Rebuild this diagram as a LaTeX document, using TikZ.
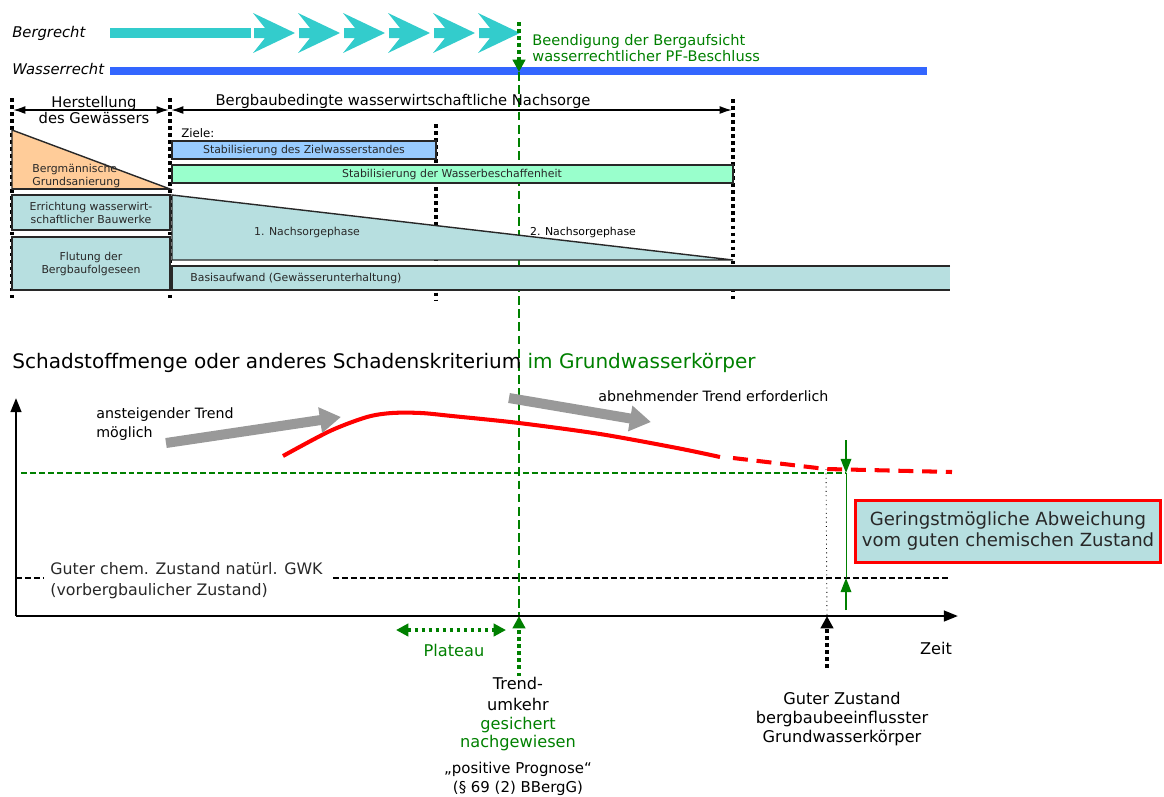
\documentclass[tikz,border=0pt]{standalone}
\usepackage{fontspec}
\setmainfont{DejaVu Sans}
\usepackage{tikz}
\usetikzlibrary{arrows.meta}
\definecolor{rechtcyan}{RGB}{51,204,204}
\definecolor{rechtblue}{RGB}{51,102,255}
\definecolor{pfgreen}{RGB}{0,128,0}
\definecolor{phaseteal}{RGB}{183,223,224}
\definecolor{sanorange}{RGB}{255,204,153}
\definecolor{zielblue}{RGB}{153,204,255}
\definecolor{zielmint}{RGB}{153,255,204}
\definecolor{trendgray}{RGB}{153,153,153}
\definecolor{edgegray}{RGB}{40,40,40}
\tikzstyle{bound_dotted} = [line width=2pt, dash pattern=on 2pt off 2pt]
\tikzstyle{phase_box} = [draw=edgegray, line width=0.8pt, fill=phaseteal]
\tikzstyle{span_arrow} = [line width=0.9pt, {Latex[length=7pt,width=4.5pt]}-{Latex[length=7pt,width=4.5pt]}]
\tikzstyle{txt_law} = [inner sep=0pt, anchor=west, font=\fontsize{8.4}{10}\selectfont\itshape]
\tikzstyle{txt_box} = [inner sep=0pt, align=center, text=edgegray, font=\fontsize{6.2}{7.2}\selectfont]
\tikzstyle{txt_head} = [inner sep=0pt, align=center, font=\fontsize{8.4}{9.6}\selectfont]
\tikzstyle{txt_trend} = [inner sep=0pt, anchor=west, align=left, font=\fontsize{8.1}{10.8}\selectfont]
\tikzstyle{txt_label} = [inner sep=0pt, align=center, font=\fontsize{9.2}{11}\selectfont]
\tikzstyle{trend_arrow} = [draw=trendgray, line width=5.7pt, -{Triangle[length=12pt,width=14pt]}]
\tikzstyle{green_dotted} = [draw=pfgreen, line width=2pt, dash pattern=on 2pt off 2pt]
\tikzstyle{green_tip} = [-{Triangle[length=7pt,width=7pt]}]
\tikzstyle{axis_arrow} = [line width=1.4pt, -{Triangle[length=8pt,width=6pt]}]
\tikzstyle{damage_curve} = [draw=red, line width=2.3pt]

\begin{document}
\begin{tikzpicture}[x=0.02cm, y=-0.02cm]
\useasboundingbox (0,0) rectangle (1164,796);

% Bergrecht / Wasserrecht
\node (lbl_berg) [txt_law] at (12,33) {Bergrecht};
\node (lbl_wasser) [txt_law] at (12,69) {Wasserrecht};
\coordinate (berg_start) at (110,33);
\coordinate (berg_end) at (251,33);
\draw[rechtcyan, line width=5.7pt] (berg_start) -- (berg_end);
\foreach \i in {0,...,5} {
  \pgfmathsetmacro\cx{253+45*\i}
  \fill[rechtcyan] (\cx,13) -- ++(42,20) -- ++(-42,20) -- ++(12,-15) -- ++(-11,0) -- ++(0,-10) -- ++(11,0) -- cycle;
}
\coordinate (wasser_start) at (110,71);
\coordinate (wasser_end) at (927,71);
\draw[rechtblue, line width=4pt] (wasser_start) -- (wasser_end);

\coordinate (pf_top) at (519,22);
\coordinate (pf_bar) at (519,72);
\coordinate (pf_axis) at (519,616);
\draw[green_dotted, green_tip] (pf_top) -- (pf_bar);
\draw[pfgreen, line width=0.75pt, dash pattern=on 5pt off 2.5pt] (pf_bar) -- (pf_axis);
\node (pf_txt) [inner sep=0pt, anchor=west, align=left, text=pfgreen, font=\fontsize{8.3}{9.6}\selectfont] at (532,48) {Beendigung der Bergaufsicht\\wasserrechtlicher PF-Beschluss};

% Phasen
\draw[bound_dotted] (12,98) -- (12,300);
\draw[bound_dotted] (170,98) -- (170,300);
\draw[bound_dotted] (436,124) -- (436,300);
\draw[bound_dotted] (733,99) -- (733,300);
\coordinate (hs_l) at (13,110);
\coordinate (hs_r) at (169,110);
\coordinate (ns_l) at (171,110);
\coordinate (ns_r) at (732,110);
\draw[span_arrow] (hs_l) -- (hs_r);
\draw[span_arrow] (ns_l) -- (ns_r);
\node (hs_txt) [txt_head] at (94,110) {Herstellung\\des Gewässers};
\node (ns_txt) [txt_head] at (403,101) {Bergbaubedingte wasserwirtschaftliche Nachsorge};

\node (ziele_txt) [inner sep=0pt, anchor=west, font=\fontsize{6.7}{8}\selectfont] at (181,133) {Ziele:};
\draw[draw=edgegray, line width=0.8pt, fill=zielblue] (172,141) rectangle (436,159);
\node (ziel_txt) [txt_box] at (304,150) {Stabilisierung des Zielwasserstandes};
\draw[draw=edgegray, line width=0.8pt, fill=zielmint] (172,165) rectangle (733,183);
\node (beschaff_txt) [txt_box] at (452,174) {Stabilisierung der Wasserbeschaffenheit};

\draw[draw=edgegray, line width=0.8pt, fill=sanorange] (12,130) -- (170,189) -- (12,189) -- cycle;
\draw[edgegray, line width=1.4pt] (12,189) -- (170,189);
\node (san_txt) [txt_box, anchor=west, align=left] at (32,176) {Bergmännische\\Grundsanierung};
\draw[phase_box] (12,195) rectangle (170,230);
\node (bau_txt) [txt_box] at (91,213) {Errichtung wasserwirt-\\schaftlicher Bauwerke};
\draw[phase_box] (12,237) rectangle (170,290);
\node (flut_txt) [txt_box, font=\fontsize{6.2}{7.6}\selectfont] at (91,264) {Flutung der\\Bergbaufolgeseen};

\draw[phase_box] (172,195) -- (733,260) -- (172,260) -- cycle;
\node (phase1_txt) [txt_box] at (307,232) {1. Nachsorgephase};
\node (phase2_txt) [txt_box, text=black] at (583,232) {2. Nachsorgephase};
\fill[phaseteal] (172,266) rectangle (950,290);
\draw[edgegray, line width=0.8pt] (950,266) -- (172,266) -- (172,290) -- (950,290);
\node (basis_txt) [txt_box, anchor=west] at (190,278) {Basisaufwand (Gewässerunterhaltung)};

% Schadstoffverlauf
\node (title_txt) [inner sep=0pt, anchor=west, font=\fontsize{11.4}{13}\selectfont] at (12,363) {Schadstoffmenge oder anderes Schadenskriterium \textcolor{pfgreen}{im Grundwasserkörper}};
\coordinate (origin) at (16,616);
\coordinate (y_top) at (16,398);
\coordinate (x_end) at (958,616);
\draw[axis_arrow] (origin) -- (y_top);
\draw[axis_arrow] (origin) -- (x_end);

\draw[pfgreen, line width=0.6pt, dash pattern=on 3.4pt off 1.7pt] (21,473) -- (846,473);
\draw[black, line width=0.6pt, dash pattern=on 3.4pt off 1.7pt] (16,578) -- (44,578);
\draw[black, line width=0.6pt, dash pattern=on 3.4pt off 1.7pt] (333,578) -- (950,578);
\node (gwk_txt) [inner sep=0pt, anchor=west, align=left, text=edgegray, font=\fontsize{9}{12}\selectfont] at (50,581) {Guter chem. Zustand natürl. GWK\\(vorbergbaulicher Zustand)};

\draw[damage_curve] plot[smooth] coordinates {(283,456) (330,431) (367,417) (392,413) (421,413) (452,416) (519,423) (600,434) (677,448) (720,457)};
\draw[damage_curve, dash pattern=on 8.5pt off 5pt] (733,458) -- (826,469) -- (952,472);

\coordinate (up_start) at (166,443);
\coordinate (up_end) at (341,417);
\coordinate (down_start) at (509,398);
\coordinate (down_end) at (651,422);
\draw[trend_arrow] (up_start) -- (up_end);
\draw[trend_arrow] (down_start) -- (down_end);
\node (up_txt) [txt_trend] at (96,424) {ansteigender Trend\\möglich};
\node (down_txt) [txt_trend] at (598,396) {abnehmender Trend erforderlich};

\coordinate (dev_top) at (846,440);
\coordinate (dev_hi) at (846,473);
\coordinate (dev_lo) at (846,578);
\coordinate (dev_bot) at (846,610);
\draw[pfgreen, line width=0.9pt, -{Triangle[length=8pt,width=6pt]}] (dev_top) -- (dev_hi);
\draw[pfgreen, line width=0.9pt, -{Triangle[length=8pt,width=6pt]}] (dev_bot) -- (dev_lo);
\draw[pfgreen, line width=0.5pt] (dev_hi) -- (dev_lo);
\node (dev_box) [draw=red, line width=1.7pt, fill=phaseteal, minimum width=6.12cm, minimum height=1.24cm, align=center, text=edgegray, font=\fontsize{10.3}{12.5}\selectfont] at (1008,531) {Geringstmögliche Abweichung\\vom guten chemischen Zustand};

\coordinate (good_curve) at (826,469);
\coordinate (good_axis) at (827,616);
\coordinate (good_foot) at (827,668);
\draw[line width=0.5pt, dotted] (good_curve) -- (good_axis);
\draw[bound_dotted, -{Triangle[length=7pt,width=7pt]}] (good_foot) -- (good_axis);

\coordinate (plat_l) at (396,630);
\coordinate (plat_r) at (506,630);
\draw[green_dotted, {Triangle[length=7pt,width=7pt]}-{Triangle[length=7pt,width=7pt]}] (plat_l) -- (plat_r);
\node (plat_txt) [txt_label, text=pfgreen] at (454,650) {Plateau};
\coordinate (trend_foot) at (519,676);
\draw[green_dotted, green_tip] (trend_foot) -- (pf_axis);

\node (zeit_txt) [txt_label] at (936,648) {Zeit};
\node (umkehr_txt) [txt_label, font=\fontsize{9.2}{12}\selectfont] at (518,694) {Trend-\\umkehr};
\node (gesichert_txt) [txt_label, text=pfgreen, font=\fontsize{9.2}{10.5}\selectfont] at (518,734) {gesichert\\nachgewiesen};
\node (prognose_txt) [txt_label, font=\fontsize{8.5}{10.8}\selectfont] at (518,779) {„positive Prognose“\\(§ 69 (2) BBergG)};
\node (good_txt) [txt_label] at (842,719) {Guter Zustand\\bergbaubeeinflusster\\Grundwasserkörper};
\end{tikzpicture}
\end{document}
